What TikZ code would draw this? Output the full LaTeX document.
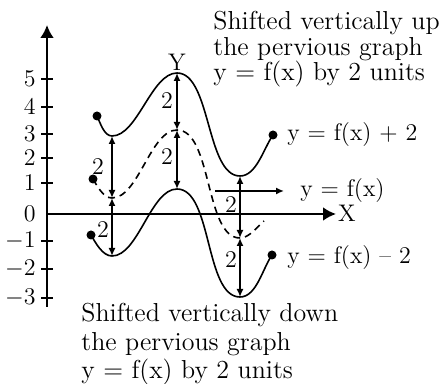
\documentclass[tikz,border=0pt]{standalone}
\usetikzlibrary{arrows.meta,positioning}

\begin{document}
\begin{tikzpicture}[x=0.5pt,y=0.5pt,
    every node/.style={font=\fontsize{12}{12.75}\selectfont, inner sep=0pt},
    axis/.style={line width=1.4pt, -{Latex[length=6.5pt,width=7pt]}},
    graph/.style={line width=0.8pt},
    shifted/.style={graph, dash pattern=on 3.5pt off 2.5pt},
    twoway/.style={line width=1pt, {Latex[length=4pt,width=3.5pt]}-{Latex[length=4pt,width=3.5pt]}},
    pointer/.style={line width=1pt, -{Latex[length=4pt,width=3.5pt]}},
    enddot/.style={circle, fill, minimum size=4.5pt},
    tick/.style={line width=1pt},
    wave/.style={out=0, in=180, looseness=0.72},
    note/.style={anchor=north west, align=left}
  ]
  \useasboundingbox (0,0) rectangle (443,384);

  % axes
  \coordinate (O) at (47,170);
  \coordinate (ybot) at (47,77);
  \coordinate (ytop) at (47,359);
  \coordinate (xend) at (336,170);
  \draw[axis] (ybot) -- (ytop);
  \draw[axis] (O) -- (xend);
  \node (xlab) at (347,171) {X};
  \node (ylab) at (177,322) {Y};
  \foreach \v/\yy in {5/305,4/277,3/250,2/226,1/201,-1/143,-2/115,-3/86}{
    \draw[tick] (41,\yy) -- (53,\yy);
    \node[anchor=east] (n\v) at (36,\yy) {$\v$};
  }
  \node[anchor=east] (n0) at (36,170) {0};

  % key points of the three graphs
  \coordinate (u0) at (97,268);  \coordinate (u1) at (112,248);
  \coordinate (u2) at (177,311); \coordinate (u3) at (240,208);
  \coordinate (u4) at (273,249);
  \coordinate (f0) at (93,205);  \coordinate (f1) at (112,186);
  \coordinate (f2) at (177,254); \coordinate (f3) at (240,146);
  \coordinate (f4) at (264,163);
  \coordinate (l0) at (91,149);  \coordinate (l1) at (112,128);
  \coordinate (l2) at (177,195); \coordinate (l3) at (240,87);
  \coordinate (l4) at (272,129);

  \draw[graph] (u0) to[out=-65,in=180,looseness=0.8] (u1) to[wave] (u2)
    to[wave] (u3) to[out=0,in=-125,looseness=0.8] (u4);
  \draw[shifted] (f0) to[out=-60,in=180,looseness=0.8] (f1) to[wave] (f2)
    to[wave] (f3) to[out=0,in=-140,looseness=0.8] (f4);
  \draw[graph] (l0) to[out=-60,in=180,looseness=0.8] (l1) to[wave] (l2)
    to[wave] (l3) to[out=0,in=-125,looseness=0.8] (l4);

  \node[enddot] (du0) at (u0) {};
  \node[enddot] (du4) at (u4) {};
  \node[enddot] (df0) at (f0) {};
  \node[enddot] (dl0) at (l0) {};
  \node[enddot] (dl4) at (l4) {};

  % shifts by 2 units
  \draw[twoway] (u1) -- (f1);
  \draw[twoway] (f1) -- (l1);
  \draw[twoway] (u2) -- (f2);
  \draw[twoway] (f2) -- (l2);
  \draw[twoway] (u3) -- (f3);
  \draw[twoway] (f3) -- (l3);
  \node (s1) at (98,217) {2};
  \node (s2) at (103,154) {2};
  \node (s3) at (167,283) {2};
  \node (s4) at (167,227) {2};
  \node (s5) at (231,179) {2};
  \node (s6) at (231,124) {2};

  % labels
  \node[anchor=west] (uplab) at (287,249) {y = f(x) + 2};
  \node[anchor=west] (fxlab) at (300,193) {y = f(x)};
  \node[anchor=west] (lowlab) at (287,126) {y = f(x) -- 2};
  \coordinate (ptr) at (215,193);
  \draw[pointer, shorten >=8pt] (ptr) -- (fxlab.west);

  \node[note, font=\fontsize{13}{12.75}\selectfont] (uptext) at (213,373)
    {Shifted vertically up\\the pervious graph\\y = f(x) by 2 units};
  \node[note, font=\fontsize{13}{14.25}\selectfont] (downtext) at (81,81)
    {Shifted vertically down\\the pervious graph\\y = f(x) by 2 units};
\end{tikzpicture}
\end{document}
